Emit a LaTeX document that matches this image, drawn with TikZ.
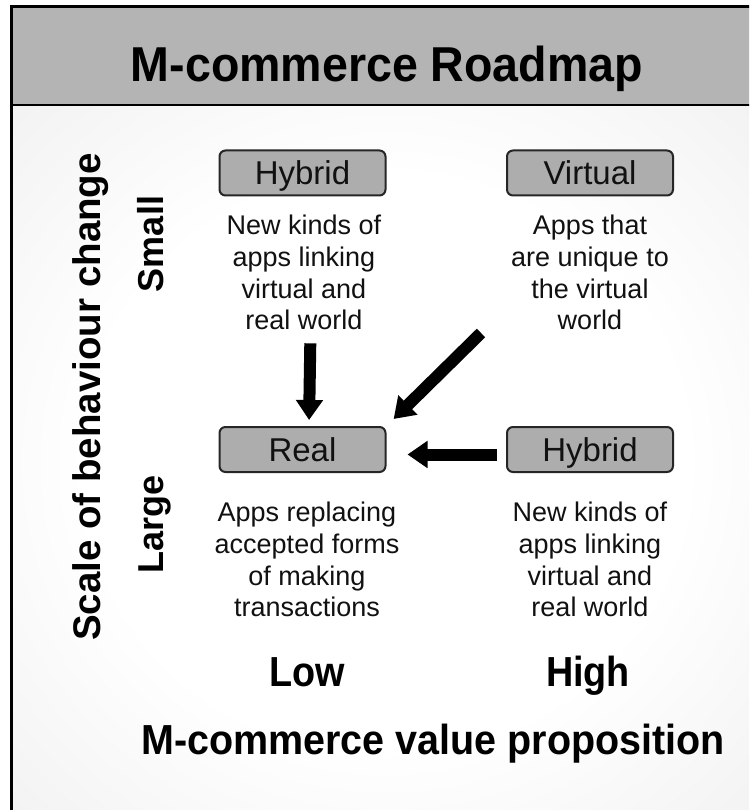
\documentclass[tikz,border=0pt]{standalone}
\usepackage{fontspec}
\setmainfont{Liberation Sans}
\newfontfamily\hfont[FakeStretch=0.9]{Liberation Sans}
\newfontfamily\bfont[FakeStretch=0.94]{Liberation Sans}
\newfontfamily\tfont[FakeStretch=0.95]{Liberation Sans}
\usetikzlibrary{arrows.meta,calc}
\definecolor{titlegray}{HTML}{B4B4B4}
\definecolor{boxgray}{HTML}{ADADAD}
\definecolor{ink}{HTML}{111111}
\pgfdeclareradialshading{bgshade}{\pgfpoint{0bp}{0bp}}{color(0bp)=(white); color(20bp)=(white); color(70bp)=(black!16)}
\begin{document}
\begin{tikzpicture}[x=1pt,y=-1pt,
  boxlbl/.style={draw=black!85, line width=2pt, fill=boxgray, rounded corners=6pt,
    minimum width=166pt, minimum height=45pt, inner sep=0pt, text height=24pt, text depth=0pt,
    text=ink, font=\fontsize{33}{38}\selectfont},
  body/.style={align=center, inner sep=0pt, anchor=north, text=ink, font=\fontsize{27}{31.7}\selectfont},
  boldlbl/.style={inner sep=0pt, anchor=base, text=black, font=\hfont\fontsize{42}{46}\selectfont\bfseries},
  vlbl/.style={inner sep=0pt, anchor=base, rotate=90, text=black},
  bigarrow/.style={line width=12pt, draw=black, -{Triangle[length=20pt 0 0, width=26pt 0 0]}}
]
\useasboundingbox (0,0) rectangle (749,810);
\begin{scope}
  \clip (0,0) rectangle (749,810);
  \fill[white] (0,0) rectangle (749,810);
  \shade[shading=bgshade] (11,105) rectangle (760,820);
  \fill[titlegray] (11,7) rectangle (760,105);
  \draw[line width=3pt] (11,820) -- (11,7) -- (760,7);
  \draw[line width=2.5pt] (11,105) -- (760,105);
\end{scope}

\node[boldlbl, font=\tfont\fontsize{49}{54}\selectfont\bfseries] (title) at (387,81.7) {M-commerce Roadmap};

\node[boxlbl] (hyb1) at (302.5,173) {Hybrid};
\node[boxlbl] (virt) at (590,173) {Virtual};
\node[boxlbl] (real) at (302.5,449.5) {Real};
\node[boxlbl] (hyb2) at (590,449.5) {Hybrid};

\node[body] (hyb1txt) at (304,215) {New kinds of\\apps linking\\virtual and\\real world};
\node[body] (virttxt) at (590,215) {Apps that\\are unique to\\the virtual\\world};
\node[body] (realtxt) at (307,502) {Apps replacing\\accepted forms\\of making\\transactions};
\node[body] (hyb2txt) at (590,502) {New kinds of\\apps linking\\virtual and\\real world};

\node[boldlbl] (low) at (307.5,686.7) {Low};
\node[boldlbl] (high) at (588,686.7) {High};
\node[boldlbl, font=\bfont\fontsize{42}{46}\selectfont\bfseries] (xaxis) at (433,754) {M-commerce value proposition};
\node[vlbl, font=\fontsize{38.5}{44}\selectfont\bfseries] (yaxis) at (100,397) {Scale of behaviour change};
\node[vlbl, font=\fontsize{36}{40}\selectfont\bfseries] (small) at (163,244) {Small};
\node[vlbl, font=\fontsize{36}{40}\selectfont\bfseries] (large) at (163,524) {Large};

\coordinate (dtail) at (481,333);
\draw[bigarrow, shorten <=13pt, shorten >=6pt] ([xshift=6.5pt]hyb1txt.south) -- ([xshift=6.5pt]real.north);
\draw[bigarrow, shorten >=10pt] (dtail) -- (real.north east);
\draw[bigarrow, shorten <=9pt, shorten >=21pt] ([yshift=-5pt]hyb2.west) -- ([yshift=-5pt]real.east);
\end{tikzpicture}
\end{document}
